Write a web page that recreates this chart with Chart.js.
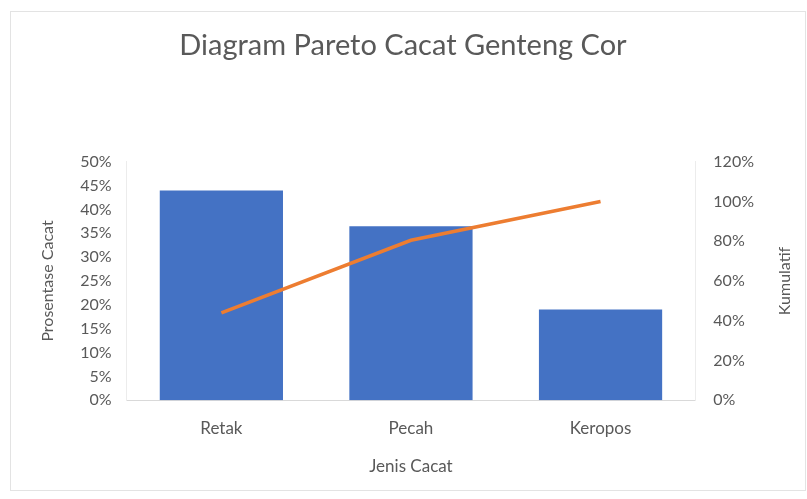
<!DOCTYPE html>
<html lang="id">
<head>
    <meta charset="UTF-8">
    <title>Diagram Pareto Cacat Genteng Cor</title>
    <script src="https://cdn.jsdelivr.net/npm/chart.js"></script>
    <style>
        html, body { margin: 0; padding: 0; background: #fff; }
        #wrap { position: relative; width: 807px; height: 499px; }
        #frame { position: absolute; left: 10px; top: 11px; width: 796px; height: 480px; border: 1px solid #e3e3e3; box-sizing: border-box; }
        canvas { position: absolute; left: 0; top: 0; }
    </style>
</head>
<body>
<div id="wrap">
    <div id="frame"></div>
    <canvas id="grafik" width="807" height="499"></canvas>
</div>
<script>
    // data
    const jenisCacat = ['Retak', 'Pecah', 'Keropos'];
    const prosentase = [0.44, 0.365, 0.19];
    const kumulatif = [0.44, 0.805, 1.0];

    const abu = '#595959';
    const huruf = 'Lato, "Open Sans", sans-serif';
    const persen = v => Math.round(v * 100) + '%';

    // judul sumbu kanan dibaca dari bawah ke atas, seperti di Excel
    const judulKanan = {
        id: 'judulKanan',
        afterDraw(chart) {
            const c = chart.ctx;
            const a = chart.chartArea;
            c.save();
            c.translate(785, (a.top + a.bottom) / 2);
            c.rotate(-Math.PI / 2);
            c.fillStyle = abu;
            c.font = '16px ' + huruf;
            c.textAlign = 'center';
            c.textBaseline = 'middle';
            c.fillText('Kumulatif', 0, 0);
            c.restore();
        }
    };

    const ctx = document.getElementById('grafik').getContext('2d');
    new Chart(ctx, {
        data: {
            labels: jenisCacat,
            datasets: [{
                type: 'line',
                label: 'Kumulatif',
                data: kumulatif,
                yAxisID: 'y2',
                borderColor: '#ED7D31',
                borderWidth: 3.5,
                pointRadius: 0,
                tension: 0,
                order: 0
            }, {
                type: 'bar',
                label: 'Prosentase Cacat',
                data: prosentase,
                yAxisID: 'y',
                backgroundColor: '#4472C4',
                barPercentage: 0.65,
                categoryPercentage: 1,
                order: 1
            }]
        },
        options: {
            responsive: false,
            animation: false,
            layout: { padding: { left: 34, right: 35, top: 28, bottom: 18 } },
            plugins: {
                legend: { display: false },
                tooltip: { enabled: false },
                title: {
                    display: true,
                    text: 'Diagram Pareto Cacat Genteng Cor',
                    color: abu,
                    font: { family: huruf, size: 29, weight: 'normal' },
                    padding: { top: 0, bottom: 99 }
                }
            },
            scales: {
                x: {
                    grid: { display: false, drawTicks: false },
                    border: { color: '#d9d9d9' },
                    ticks: { color: abu, font: { family: huruf, size: 17 }, padding: 18 },
                    title: { display: true, text: 'Jenis Cacat', color: abu, font: { family: huruf, size: 17 }, padding: { top: 0, bottom: 4 } }
                },
                y: {
                    position: 'left',
                    min: 0, max: 0.5,
                    grid: { display: false, drawTicks: false },
                    border: { color: '#ececec' },
                    ticks: { stepSize: 0.05, color: abu, font: { family: huruf, size: 16 }, padding: 15, callback: persen },
                    title: { display: true, text: 'Prosentase Cacat', color: abu, font: { family: huruf, size: 16 }, padding: { top: 4, bottom: 8 } }
                },
                y2: {
                    position: 'right',
                    min: 0, max: 1.2,
                    grid: { display: false, drawTicks: false },
                    border: { color: '#ececec' },
                    ticks: { stepSize: 0.2, color: abu, font: { family: huruf, size: 16 }, padding: 18, callback: persen }
                }
            }
        },
        plugins: [judulKanan]
    });
</script>
</body>
</html>
